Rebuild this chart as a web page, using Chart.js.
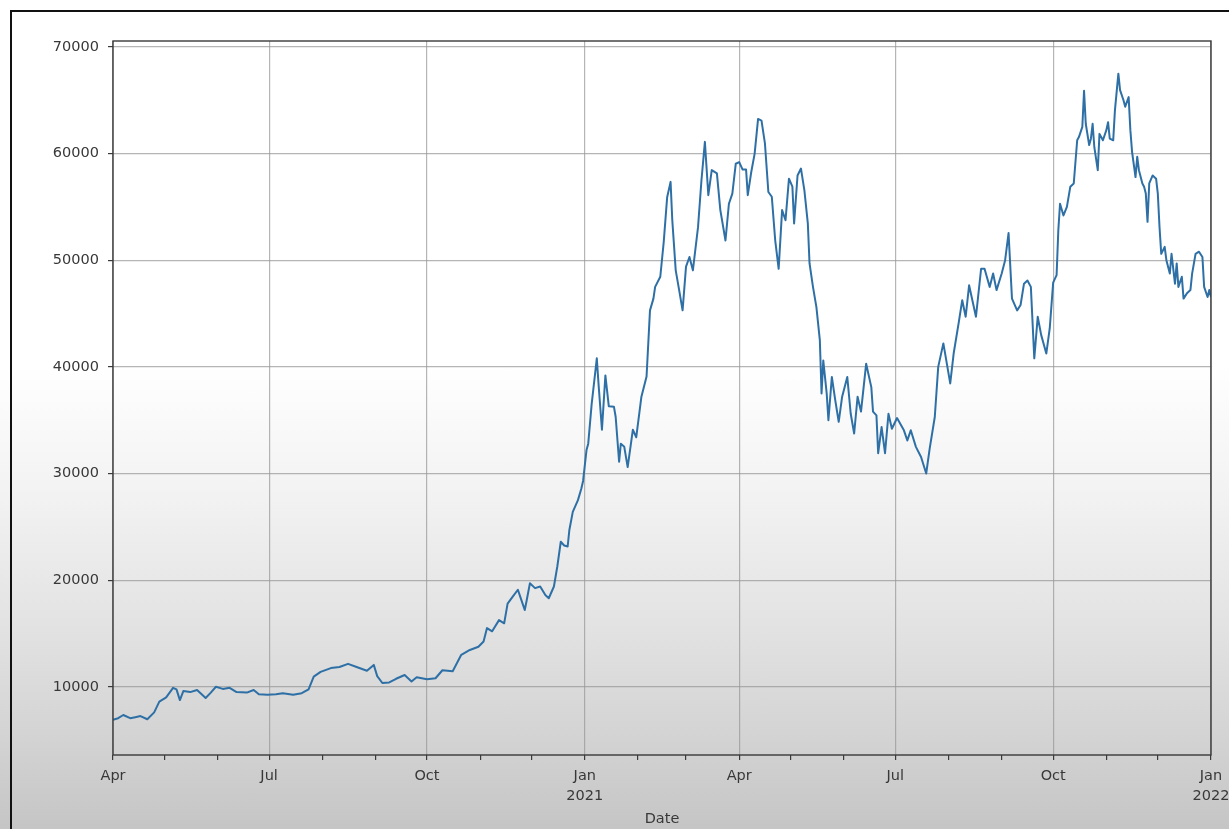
<!DOCTYPE html>
<html>
<head>
<meta charset="utf-8">
<script src="https://cdn.jsdelivr.net/npm/chart.js@4.4.1/dist/chart.umd.min.js"></script>
<style>
  html, body { margin: 0; padding: 0; width: 1229px; height: 829px; overflow: hidden; }
  body {
    position: relative;
    background: linear-gradient(to bottom, #ffffff 0%, #ffffff 44%, #f2f2f2 60%, #e2e2e2 76%, #d2d2d2 90%, #c5c5c5 100%);
  }
  #frame { position: absolute; left: 10px; top: 10px; width: 1240px; height: 840px;
           border: 2px solid #111; box-sizing: border-box; pointer-events: none; }
  canvas { position: absolute; left: 0; top: 0; }
</style>
</head>
<body>
<canvas id="c" width="1229" height="829"></canvas>
<div id="frame"></div>
<script>
// Daily closing price (USD), sampled
const dates = [
  '2020-04-01','2020-04-04','2020-04-07','2020-04-11','2020-04-14','2020-04-17','2020-04-21','2020-04-25','2020-04-28',
  '2020-05-02','2020-05-06','2020-05-08','2020-05-10','2020-05-12','2020-05-16','2020-05-20','2020-05-25','2020-05-28','2020-05-31',
  '2020-06-04','2020-06-08','2020-06-12','2020-06-18','2020-06-22','2020-06-25','2020-06-30',
  '2020-07-05','2020-07-09','2020-07-15','2020-07-20','2020-07-24','2020-07-27','2020-07-31',
  '2020-08-06','2020-08-11','2020-08-16','2020-08-21','2020-08-27','2020-08-31',
  '2020-09-02','2020-09-05','2020-09-09','2020-09-13','2020-09-18','2020-09-22','2020-09-25',
  '2020-10-01','2020-10-06','2020-10-10','2020-10-16','2020-10-21','2020-10-26','2020-10-31',
  '2020-11-03','2020-11-05','2020-11-08','2020-11-12','2020-11-15','2020-11-17','2020-11-20','2020-11-23','2020-11-25','2020-11-27','2020-11-28','2020-11-30',
  '2020-12-03','2020-12-06','2020-12-09','2020-12-11','2020-12-14','2020-12-16','2020-12-18','2020-12-20','2020-12-22','2020-12-23','2020-12-25','2020-12-28','2020-12-30','2020-12-31',
  '2021-01-02','2021-01-03','2021-01-05','2021-01-08','2021-01-09','2021-01-11','2021-01-13','2021-01-15','2021-01-18','2021-01-19','2021-01-21','2021-01-22','2021-01-24','2021-01-26','2021-01-29','2021-01-31',
  '2021-02-03','2021-02-06','2021-02-08','2021-02-10','2021-02-11','2021-02-14','2021-02-16','2021-02-18','2021-02-20','2021-02-21','2021-02-23','2021-02-25','2021-02-27',
  '2021-03-01','2021-03-03','2021-03-05','2021-03-08','2021-03-10','2021-03-12','2021-03-14','2021-03-16','2021-03-19','2021-03-21','2021-03-24','2021-03-26','2021-03-28','2021-03-30',
  '2021-04-01','2021-04-03','2021-04-05','2021-04-06','2021-04-08','2021-04-10','2021-04-12','2021-04-14','2021-04-16','2021-04-18','2021-04-20','2021-04-22','2021-04-24','2021-04-26','2021-04-28','2021-04-30',
  '2021-05-02','2021-05-03','2021-05-05','2021-05-07','2021-05-09','2021-05-11','2021-05-12','2021-05-14','2021-05-16','2021-05-18','2021-05-19','2021-05-20','2021-05-22','2021-05-23','2021-05-25','2021-05-27','2021-05-29','2021-05-31',
  '2021-06-03','2021-06-05','2021-06-07','2021-06-09','2021-06-11','2021-06-14','2021-06-17','2021-06-18','2021-06-20','2021-06-21','2021-06-23','2021-06-25','2021-06-27','2021-06-29',
  '2021-07-02','2021-07-06','2021-07-08','2021-07-10','2021-07-13','2021-07-16','2021-07-19','2021-07-21','2021-07-24','2021-07-26','2021-07-29',
  '2021-08-02','2021-08-04','2021-08-07','2021-08-09','2021-08-11','2021-08-13','2021-08-17','2021-08-20','2021-08-22','2021-08-25','2021-08-27','2021-08-29',
  '2021-09-01','2021-09-03','2021-09-05','2021-09-07','2021-09-10','2021-09-12','2021-09-14','2021-09-16','2021-09-18','2021-09-20','2021-09-22','2021-09-24','2021-09-27','2021-09-29',
  '2021-10-01','2021-10-03','2021-10-04','2021-10-05','2021-10-07','2021-10-09','2021-10-11','2021-10-13','2021-10-15','2021-10-16','2021-10-18','2021-10-19','2021-10-20','2021-10-22','2021-10-23','2021-10-24','2021-10-25','2021-10-27','2021-10-28','2021-10-30',
  '2021-11-01','2021-11-02','2021-11-03','2021-11-05','2021-11-06','2021-11-08','2021-11-09','2021-11-11','2021-11-12','2021-11-14','2021-11-15','2021-11-16','2021-11-18','2021-11-19','2021-11-20','2021-11-22','2021-11-23','2021-11-24','2021-11-25','2021-11-26','2021-11-28','2021-11-30',
  '2021-12-01','2021-12-02','2021-12-03','2021-12-05','2021-12-06','2021-12-08','2021-12-09','2021-12-11','2021-12-12','2021-12-13','2021-12-15','2021-12-16','2021-12-18','2021-12-20','2021-12-21','2021-12-23','2021-12-25','2021-12-27','2021-12-28','2021-12-30','2021-12-31',
  '2022-01-01'
];
const prices = [
  6900,7050,7350,7050,7150,7250,6950,7600,8600,
  9000,9900,9750,8750,9600,9500,9700,8950,9450,10000,
  9800,9900,9500,9450,9700,9300,9250,
  9300,9400,9250,9400,9750,10950,11400,
  11750,11850,12150,11850,11500,12050,
  11000,10350,10400,10750,11100,10500,10900,
  10700,10800,11550,11450,13000,13450,13750,
  14250,15500,15200,16250,15950,17800,18450,19100,18150,17200,18000,19700,
  19250,19400,18600,18300,19400,21300,23600,23250,23150,24700,26400,27500,28600,29300,
  32200,32800,36500,40800,38400,34100,39200,36300,36250,35300,31100,32800,32500,30600,34100,33400,
  37200,39100,45300,46400,47500,48450,51700,55900,57350,53750,49050,47200,45300,
  49400,50300,49050,53100,57500,61100,56100,58450,58150,54700,51850,55300,56250,59050,
  59200,58500,58500,56100,58250,60000,63250,63100,60950,56400,55950,51850,49200,54700,53750,57650,
  56900,53450,57950,58600,56550,53450,49700,47500,45600,42500,37500,40600,37500,35000,39050,36850,34850,37200,
  39050,35600,33750,37200,35800,40300,38100,35800,35450,31900,34350,31900,35600,34200,
  35200,34050,33100,34050,32500,31550,30000,32300,35300,40000,42200,
  38450,41250,44200,46250,44700,47650,44700,49200,49200,47500,48750,47200,
  48750,50000,52550,46400,45300,45800,47800,48100,47500,40800,44700,43000,41250,43600,
  47900,48600,52800,55300,54200,55000,56900,57200,61250,61550,62500,65900,62800,60800,61400,62800,60600,58450,61850,61250,
  62200,62950,61400,61250,64050,67500,65950,65000,64400,65300,62200,60150,57800,59700,58450,57200,56900,56250,53600,57200,57950,57650,
  56250,53100,50600,51250,50000,48750,50600,47800,49700,47500,48450,46400,46900,47200,48750,50600,50800,50300,47500,46550,47200,
  46550
];

// Month boundaries on the date axis and their labels (empty = minor tick)
const monthStarts = [
  '2020-04-01','2020-05-01','2020-06-01','2020-07-01','2020-08-01','2020-09-01','2020-10-01','2020-11-01','2020-12-01',
  '2021-01-01','2021-02-01','2021-03-01','2021-04-01','2021-05-01','2021-06-01','2021-07-01','2021-08-01','2021-09-01',
  '2021-10-01','2021-11-01','2021-12-01','2022-01-01'
];
const monthLabels = [
  'Apr','','','Jul','','','Oct','','',
  'Jan\n2021','','','Apr','','','Jul','','',
  'Oct','','','Jan\n2022'
];
const yTicks = [10000, 20000, 30000, 40000, 50000, 60000, 70000];
const yMin = 3600;
const yMax = 70560;

const DAY_MS = 86400000;
const ORIGIN = Date.UTC(2020, 3, 1);
function dayOffset(s) {
  const [y, m, d] = s.split('-').map(Number);
  return Math.round((Date.UTC(y, m - 1, d) - ORIGIN) / DAY_MS);
}
const tickDays = monthStarts.map(dayOffset);
const points = dates.map((d, i) => ({ x: dayOffset(d), y: prices[i] }));

const TEXT = '#383838';
const GRID = 'rgba(150,150,150,0.7)';
const SPINE = '#3a3a3a';
const FONT = { family: 'DejaVu Sans', size: 14.5 };

// Closed box around the plotting area
const boxPlugin = {
  id: 'box',
  afterDatasetsDraw(chart) {
    const { ctx, chartArea: a } = chart;
    ctx.save();
    ctx.strokeStyle = SPINE;
    ctx.lineWidth = 1.4;
    ctx.strokeRect(a.left, a.top, a.right - a.left, a.bottom - a.top);
    ctx.restore();
  }
};

new Chart(document.getElementById('c'), {
  type: 'line',
  data: {
    datasets: [{
      label: 'Close',
      data: points,
      borderColor: '#2e70a6',
      borderWidth: 2,
      pointRadius: 0,
      tension: 0,
      fill: false,
      borderJoinStyle: 'round'
    }]
  },
  options: {
    responsive: false,
    animation: false,
    devicePixelRatio: 1,
    layout: { padding: { left: 0, top: 41, right: 18, bottom: 0 } },
    plugins: { legend: { display: false }, tooltip: { enabled: false } },
    scales: {
      x: {
        type: 'linear',
        min: tickDays[0],
        max: tickDays[tickDays.length - 1],
        afterBuildTicks(scale) { scale.ticks = tickDays.map(v => ({ value: v })); },
        afterFit(scale) { scale.height = 74; scale.paddingLeft = 0; scale.paddingRight = 0; },
        ticks: {
          autoSkip: false, maxRotation: 0, minRotation: 0, padding: 6,
          color: TEXT, font: { family: FONT.family, size: FONT.size, lineHeight: 1.4 },
          callback(value) {
            const i = tickDays.indexOf(value);
            const t = i >= 0 ? monthLabels[i] : '';
            return t.includes('\n') ? t.split('\n') : t;
          }
        },
        grid: {
          color(ctx) {
            const i = tickDays.indexOf(ctx.tick && ctx.tick.value);
            return i >= 0 && monthLabels[i] !== '' ? GRID : 'rgba(0,0,0,0)';
          },
          lineWidth: 1.2,
          tickColor: SPINE,
          tickLength: 5,
          drawTicks: true
        },
        border: { display: false },
        title: { display: true, text: 'Date', color: TEXT, font: FONT, padding: { top: 0, bottom: 1 } }
      },
      y: {
        min: yMin,
        max: yMax,
        afterBuildTicks(scale) { scale.ticks = yTicks.map(v => ({ value: v })); },
        afterFit(scale) { scale.width = 113; scale.paddingTop = 0; scale.paddingBottom = 0; },
        ticks: { padding: 9, color: TEXT, font: FONT, callback: v => String(v) },
        grid: { color: GRID, lineWidth: 1.2, tickColor: SPINE, tickLength: 5, drawTicks: true },
        border: { display: false }
      }
    }
  },
  plugins: [boxPlugin]
});
</script>
</body>
</html>
